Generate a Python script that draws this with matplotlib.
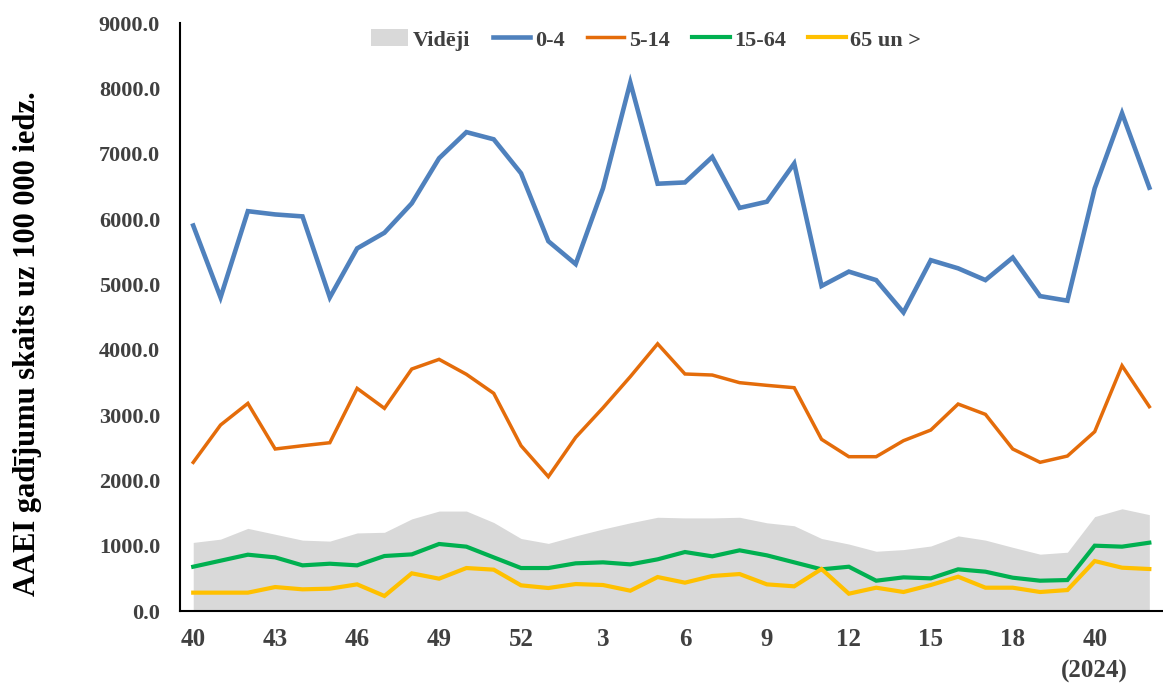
import matplotlib
matplotlib.use("Agg")
import matplotlib.pyplot as plt
from matplotlib.patches import Patch
from matplotlib.lines import Line2D

weeks = [40, 41, 42, 43, 44, 45, 46, 47, 48, 49, 50, 51, 52,
         1, 2, 3, 4, 5, 6, 7, 8, 9, 10, 11, 12, 13, 14, 15, 16, 17, 18, 19, 20,
         40, 41, 42]

videji = [1050, 1100, 1265, 1175, 1085, 1070, 1195, 1205, 1410, 1530, 1530, 1355, 1110,
          1035, 1150, 1255, 1350, 1435, 1425, 1425, 1435, 1350, 1305, 1110, 1025,
          915, 940, 995, 1150, 1085, 975, 870, 900, 1445, 1565, 1475]

age_0_4 = [5900, 4800, 6120, 6070, 6040, 4800, 5550, 5790, 6240, 6930, 7330, 7220, 6700,
           5660, 5310, 6470, 8090, 6540, 6560, 6950, 6170, 6265, 6850, 4975, 5195,
           5065, 4570, 5370, 5245, 5065, 5410, 4820, 4750, 6470, 7620, 6480]

age_5_14 = [2275, 2847, 3178, 2480, 2530, 2576, 3408, 3102, 3704, 3852, 3623, 3332, 2530,
            2056, 2658, 3110, 3587, 4090, 3628, 3612, 3495, 3454, 3418, 2628, 2362,
            2362, 2607, 2770, 3168, 3010, 2480, 2276, 2372, 2745, 3755, 3128]

age_15_64 = [678, 770, 862, 821, 699, 724, 699, 842, 867, 1026, 985, 821, 658,
             658, 730, 745, 714, 791, 903, 837, 929, 852, 745, 638, 678,
             464, 515, 500, 638, 602, 510, 464, 474, 1000, 985, 1046]

age_65 = [281, 281, 281, 367, 332, 342, 408, 230, 577, 495, 658, 633, 393,
          352, 413, 398, 311, 520, 434, 536, 566, 408, 378, 643, 265,
          357, 291, 398, 525, 357, 357, 291, 321, 765, 663, 643]

series_names = ["Vidēji", "0-4", "5-14", "15-64", "65 un >"]
tick_every = 3
year_label = "(2024)"
y_label = "AAEI gadījumu skaits uz 100 000 iedz."

col_avg = "#d9d9d9"
col_04 = "#4f81bd"
col_514 = "#e46c0a"
col_1564 = "#00b050"
col_65 = "#ffc000"
tick_col = "#404040"

plt.rcParams['font.family'] = ['Liberation Serif', 'DejaVu Serif']
plt.rcParams['font.weight'] = 'bold'

fig = plt.figure(figsize=(11.63, 6.87), dpi=100)
ax = fig.add_axes([0.1544, 0.1106, 0.8456, 0.8559])

x = list(range(len(weeks)))
ax.fill_between(x, 0, videji, color=col_avg, linewidth=0, zorder=1)
ax.plot(x, age_0_4, color=col_04, lw=3.3, zorder=3, solid_joinstyle='miter')
ax.plot(x, age_5_14, color=col_514, lw=2.5, zorder=3, solid_joinstyle='miter')
ax.plot(x, age_15_64, color=col_1564, lw=3.0, zorder=3, solid_joinstyle='miter')
ax.plot(x, age_65, color=col_65, lw=3.0, zorder=3, solid_joinstyle='miter')

ax.set_xlim(-0.5, len(weeks) - 0.5)
ax.set_ylim(0, 9000)
ax.set_yticks(range(0, 9001, 1000))
ax.set_yticklabels([f"{v:.1f}" for v in range(0, 9001, 1000)])

tick_pos = list(range(0, len(weeks), tick_every))
labels = []
for i in tick_pos:
    lab = str(weeks[i])
    if i >= 33:
        lab += "\n" + year_label
    labels.append(lab)
ax.set_xticks(tick_pos)
ax.set_xticklabels(labels, linespacing=1.5)

ax.tick_params(axis='y', length=0, pad=14, labelsize=16, labelcolor=tick_col)
ax.tick_params(axis='x', length=0, pad=12, labelsize=18, labelcolor=tick_col)
for lab in ax.get_xticklabels() + ax.get_yticklabels():
    lab.set_fontweight('bold')

for s in ['top', 'right']:
    ax.spines[s].set_visible(False)
ax.spines['left'].set_color('black')
ax.spines['left'].set_linewidth(1.5)
ax.spines['bottom'].set_color('black')
ax.spines['bottom'].set_linewidth(1.5)

ax.set_ylabel(y_label, fontsize=22, fontweight='bold', color='black')
ax.yaxis.set_label_coords(-0.14, 0.455)

handles = [Patch(facecolor=col_avg, edgecolor='none'),
           Line2D([], [], color=col_04, lw=3.3),
           Line2D([], [], color=col_514, lw=2.5),
           Line2D([], [], color=col_1564, lw=3.0),
           Line2D([], [], color=col_65, lw=3.0)]
leg = fig.legend(handles, series_names, loc='center', bbox_to_anchor=(646 / 1163, 1 - 40 / 687),
                 ncol=5, frameon=False, prop={'family': 'Liberation Serif', 'weight': 'bold', 'size': 16},
                 handlelength=1.7, handletextpad=0.2, columnspacing=1.0, handleheight=0.8)
for t in leg.get_texts():
    t.set_color(tick_col)

fig.savefig("out.png", dpi=100)
